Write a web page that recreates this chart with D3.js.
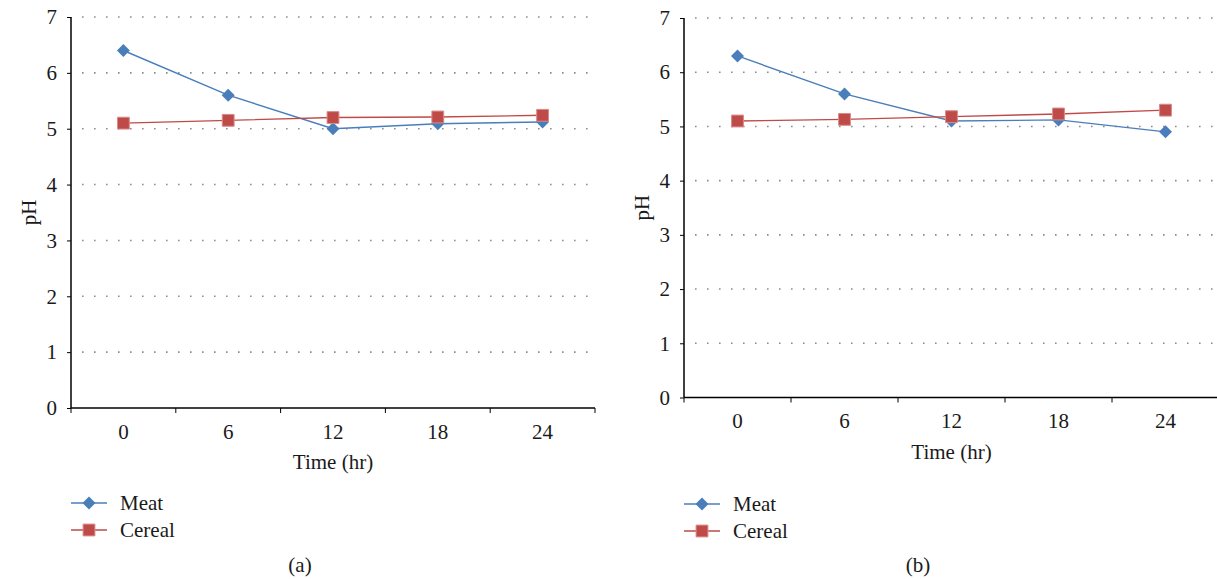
<!DOCTYPE html>
<html>
<head>
	<script type="text/javascript" src="https://d3js.org/d3.v7.min.js"></script>
	<style>
		body { margin: 0; background: #fff; }
		text { font-family: "Liberation Serif", "DejaVu Serif", serif; fill: #1a1a1a; }
	</style>
</head>
<body>
	<svg width="1217" height="579"></svg>
	<script>
		// data
		var times = ["0", "6", "12", "18", "24"];
		var yTicks = [0, 1, 2, 3, 4, 5, 6, 7];
		var seriesNames = ["Meat", "Cereal"];
		var meatA = [6.40, 5.60, 5.00, 5.09, 5.12];
		var cerealA = [5.10, 5.15, 5.20, 5.21, 5.24];
		var meatB = [6.30, 5.60, 5.10, 5.12, 4.90];
		var cerealB = [5.10, 5.13, 5.18, 5.23, 5.30];

		var colors = { Meat: "#4a7ebb", Cereal: "#be4b48" };
		var symbols = { Meat: "diamond", Cereal: "square" };
		var serif = '"Liberation Serif", "DejaVu Serif", serif';
		var fs = "21px";

		var panels = [
			{ caption: "(a)", meat: meatA, cereal: cerealA, left: 71, right: 595, top: 17, bottom: 408, legendY: 503, captionX: 300 },
			{ caption: "(b)", meat: meatB, cereal: cerealB, left: 684, right: 1219, top: 18, bottom: 397.5, legendY: 504, captionX: 918 }
		];

		var svg = d3.select("svg");

		function marker(g, kind, color) {
			if (kind === "diamond") {
				g.append("path")
					.attr("d", d3.symbol(d3.symbolSquare, 84)())
					.attr("transform", "rotate(45)")
					.attr("fill", color);
			} else {
				g.append("path")
					.attr("d", d3.symbol(d3.symbolSquare, 140)())
					.attr("fill", color)
					.attr("stroke", "#d98b89")
					.attr("stroke-width", 1);
			}
		}

		panels.forEach(function (p) {
			var g = svg.append("g");

			var x = d3.scaleBand()
				.domain(times)
				.range([p.left, p.right]);

			var y = d3.scaleLinear()
				.domain([0, 7])
				.range([p.bottom, p.top]);

			// dotted gridlines
			g.append("g")
				.selectAll("line")
				.data(yTicks.slice(1))
				.join("line")
				.attr("x1", p.left + 11)
				.attr("x2", Math.min(p.right, 1217))
				.attr("y1", d => y(d))
				.attr("y2", d => y(d))
				.attr("stroke", "#8c8c8c")
				.attr("stroke-width", 1.6)
				.attr("stroke-dasharray", "1.6,10.4");

			// y axis
			var yAxis = g.append("g")
				.attr("transform", `translate(${p.left},0)`)
				.call(d3.axisLeft(y).tickValues(yTicks).tickFormat(d3.format("d")).tickSize(4).tickPadding(10));
			yAxis.attr("font-family", serif);
			yAxis.selectAll("text").style("font-size", fs).attr("fill", "#1a1a1a");

			// x axis with ticks on band boundaries
			var xAxis = g.append("g")
				.attr("transform", `translate(0,${p.bottom})`)
				.call(d3.axisBottom(x).tickSize(0).tickPadding(16));
			xAxis.attr("font-family", serif);
			xAxis.selectAll("text").style("font-size", fs).attr("fill", "#1a1a1a");
			xAxis.selectAll(".boundary")
				.data(times.concat(["end"]))
				.join("line")
				.attr("class", "boundary")
				.attr("x1", (d, i) => i < times.length ? x(d) : x(times[times.length - 1]) + x.bandwidth())
				.attr("x2", (d, i) => i < times.length ? x(d) : x(times[times.length - 1]) + x.bandwidth())
				.attr("y1", 0)
				.attr("y2", 5)
				.attr("stroke", "#000");

			[yAxis, xAxis].forEach(a => a.select(".domain").attr("stroke", "#000").attr("stroke-width", 1.5));
			xAxis.select(".domain").attr("d", `M${p.left},0H${p.right}`);
			yAxis.select(".domain").attr("d", `M0,${p.top}V${p.bottom}`);

			// axis titles
			g.append("text")
				.attr("x", (p.left + p.right) / 2)
				.attr("y", p.bottom + 61)
				.attr("text-anchor", "middle")
				.style("font-size", fs)
				.text("Time (hr)");

			g.append("text")
				.attr("transform", `translate(${p.left - 35},${(p.top + p.bottom) / 2}) rotate(-90)`)
				.attr("text-anchor", "middle")
				.style("font-size", fs)
				.text("pH");

			// series
			var series = [{ name: "Meat", values: p.meat }, { name: "Cereal", values: p.cereal }];
			var line = d3.line()
				.x((d, i) => x(times[i]) + x.bandwidth() / 2)
				.y(d => y(d));

			series.forEach(function (s) {
				g.append("path")
					.datum(s.values)
					.attr("d", line)
					.attr("fill", "none")
					.attr("stroke", colors[s.name])
					.attr("stroke-width", 1.4);
			});

			series.forEach(function (s) {
				g.append("g")
					.selectAll("g")
					.data(s.values)
					.join("g")
					.attr("transform", (d, i) => `translate(${x(times[i]) + x.bandwidth() / 2},${y(d)})`)
					.each(function () { marker(d3.select(this), symbols[s.name], colors[s.name]); });
			});

			// legend
			seriesNames.forEach(function (name, i) {
				var ly = p.legendY + i * 27;
				var lg = g.append("g").attr("transform", `translate(${p.left},${ly})`);
				lg.append("line")
					.attr("x1", 0).attr("x2", 36)
					.attr("stroke", colors[name]).attr("stroke-width", 1.4);
				marker(lg.append("g").attr("transform", "translate(18,0)"), symbols[name], colors[name]);
				lg.append("text")
					.attr("x", 49)
					.attr("dy", "0.33em")
					.style("font-size", fs)
					.text(name);
			});

			// caption
			g.append("text")
				.attr("x", p.captionX)
				.attr("y", 572)
				.attr("text-anchor", "middle")
				.style("font-size", fs)
				.text(p.caption);
		});
	</script>
</body>
</html>
